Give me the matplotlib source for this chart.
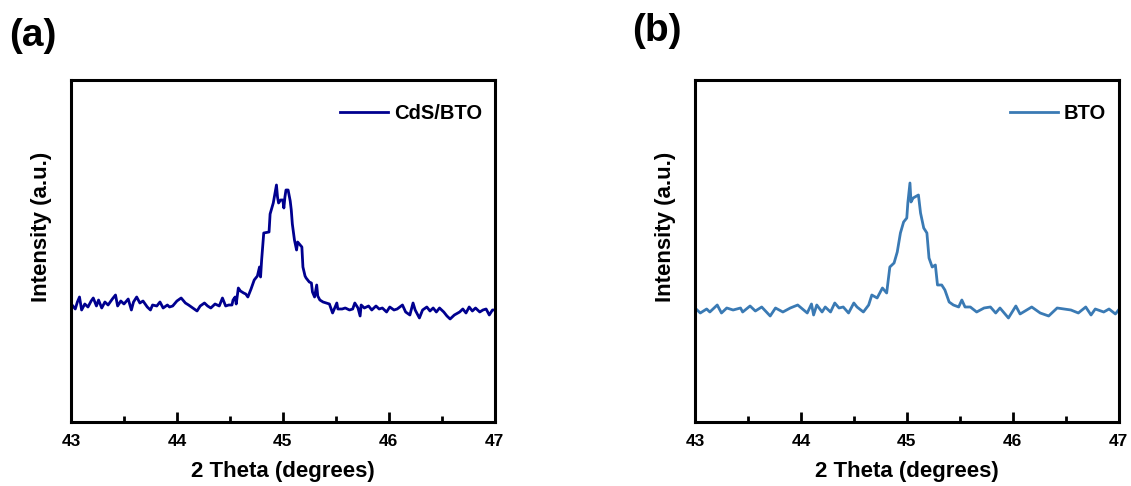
import matplotlib
matplotlib.use('Agg')
import matplotlib.pyplot as plt
from matplotlib.ticker import MultipleLocator

plt.rcParams['font.family'] = ['Liberation Sans', 'DejaVu Sans']
plt.rcParams['font.weight'] = 'bold'

# XRD scan around 45 deg, CdS/BTO
theta_a = [43.01, 43.04, 43.06, 43.08, 43.10, 43.13, 43.16, 43.19, 43.21, 43.24,
           43.26, 43.29, 43.32, 43.35, 43.39, 43.42, 43.44, 43.47, 43.50, 43.54,
           43.57, 43.59, 43.62, 43.65, 43.68, 43.72, 43.75, 43.77, 43.81, 43.84,
           43.87, 43.91, 43.93, 43.96, 44.00, 44.04, 44.08, 44.11, 44.15, 44.19,
           44.22, 44.26, 44.29, 44.32, 44.36, 44.40, 44.43, 44.46, 44.49, 44.52,
           44.53, 44.55, 44.56, 44.58, 44.60, 44.63, 44.65, 44.67, 44.70, 44.73,
           44.76, 44.78, 44.79, 44.80, 44.82, 44.87, 44.88, 44.91, 44.92, 44.94,
           44.95, 44.96, 44.98, 45.00, 45.01, 45.02, 45.03, 45.05, 45.07, 45.08,
           45.09, 45.11, 45.13, 45.14, 45.18, 45.19, 45.21, 45.22, 45.25, 45.27,
           45.28, 45.30, 45.32, 45.33, 45.35, 45.38, 45.41, 45.44, 45.47, 45.51,
           45.52, 45.56, 45.59, 45.63, 45.66, 45.68, 45.71, 45.73, 45.74, 45.77,
           45.81, 45.84, 45.88, 45.91, 45.94, 45.98, 46.01, 46.05, 46.08, 46.13,
           46.16, 46.20, 46.23, 46.25, 46.29, 46.32, 46.36, 46.39, 46.42, 46.45,
           46.48, 46.52, 46.55, 46.58, 46.62, 46.67, 46.70, 46.73, 46.76, 46.79,
           46.82, 46.86, 46.89, 46.92, 46.95, 46.98, 47.00]
int_a = [117, 113, 120, 125, 112, 118, 115, 121, 124, 116,
         122, 114, 120, 117, 123, 127, 116, 121, 118, 123,
         112, 120, 125, 119, 121, 115, 112, 117, 116, 120,
         114, 117, 115, 116, 121, 124, 119, 117, 114, 111,
         116, 119, 116, 114, 118, 116, 124, 116, 117, 117,
         122, 125, 118, 134, 131, 129, 128, 125, 133, 142,
         146, 155, 145, 162, 189, 190, 208, 219, 225, 237,
         225, 219, 222, 222, 214, 225, 232, 232, 221, 212,
         198, 182, 172, 180, 175, 155, 146, 144, 140, 139,
         130, 125, 137, 126, 122, 120, 119, 118, 109, 119,
         113, 113, 114, 112, 113, 119, 114, 106, 117, 114,
         116, 112, 116, 113, 114, 110, 115, 112, 113, 117,
         110, 107, 119, 112, 104, 112, 115, 111, 114, 110,
         114, 110, 106, 103, 107, 110, 113, 109, 115, 111,
         114, 110, 112, 113, 107, 112, 112]

# BTO
theta_b = [43.02, 43.05, 43.11, 43.14, 43.21, 43.25, 43.30, 43.36, 43.43, 43.45,
           43.52, 43.57, 43.63, 43.71, 43.76, 43.83, 43.90, 43.97, 44.06, 44.10,
           44.12, 44.15, 44.20, 44.23, 44.28, 44.32, 44.36, 44.40, 44.45, 44.50,
           44.53, 44.59, 44.64, 44.67, 44.72, 44.77, 44.81, 44.84, 44.88, 44.91,
           44.94, 44.97, 45.00, 45.01, 45.03, 45.04, 45.06, 45.11, 45.13, 45.16,
           45.19, 45.21, 45.24, 45.27, 45.29, 45.33, 45.36, 45.40, 45.44, 45.49,
           45.52, 45.55, 45.60, 45.66, 45.73, 45.79, 45.84, 45.88, 45.96, 46.03,
           46.07, 46.18, 46.26, 46.34, 46.42, 46.55, 46.62, 46.69, 46.74, 46.78,
           46.86, 46.91, 46.97, 47.00]
int_b = [112, 109, 113, 110, 117, 109, 114, 112, 114, 110,
         116, 111, 115, 106, 114, 110, 114, 117, 109, 118,
         107, 117, 110, 115, 110, 119, 114, 115, 109, 119,
         115, 110, 117, 127, 124, 134, 129, 155, 159, 170,
         189, 200, 204, 219, 239, 220, 224, 227, 209, 194,
         189, 164, 155, 157, 137, 137, 132, 120, 117, 115,
         122, 115, 115, 110, 114, 115, 109, 114, 104, 116,
         108, 115, 109, 106, 114, 112, 109, 115, 107, 113,
         110, 113, 108, 112]

panels = [
    ('(a)', theta_a, int_a, 'CdS/BTO', '#00008f'),
    ('(b)', theta_b, int_b, 'BTO', '#3a7ab4'),
]

fig = plt.figure(figsize=(11.31, 4.86), dpi=100)
lefts = [0.0628, 0.6145]
tags = [(0.008, 0.925), (0.559, 0.936)]

for i, (tag, x, y, lab, col) in enumerate(panels):
    ax = fig.add_axes([lefts[i], 0.1317, 0.3745, 0.7037])
    ax.plot(x, y, color=col, lw=2, label=lab)
    ax.set_xlim(43, 47)
    ax.set_ylim(0, 342)
    ax.xaxis.set_major_locator(MultipleLocator(1))
    ax.xaxis.set_minor_locator(MultipleLocator(0.5))
    ax.tick_params(axis='x', which='major', direction='in', length=7, width=2,
                   labelsize=12.5, pad=9)
    ax.tick_params(axis='x', which='minor', direction='in', length=4, width=2)
    ax.set_yticks([])
    for s in ax.spines.values():
        s.set_linewidth(2.2)
    ax.set_xlabel('2 Theta (degrees)', fontsize=16, fontweight='bold', labelpad=8)
    ax.set_ylabel('Intensity (a.u.)', fontsize=16, fontweight='bold')
    ax.yaxis.set_label_coords(-0.045, 0.57)
    ax.legend(loc='upper right', frameon=False, fontsize=14.5, handlelength=2.4,
              handletextpad=0.3, borderaxespad=1.0, borderpad=0.2,
              bbox_to_anchor=(1.028, 1.0))
    fig.text(tags[i][0], tags[i][1], tag, fontsize=28, fontweight='bold',
             va='center', ha='left')

fig.savefig('out.png', dpi=100)
